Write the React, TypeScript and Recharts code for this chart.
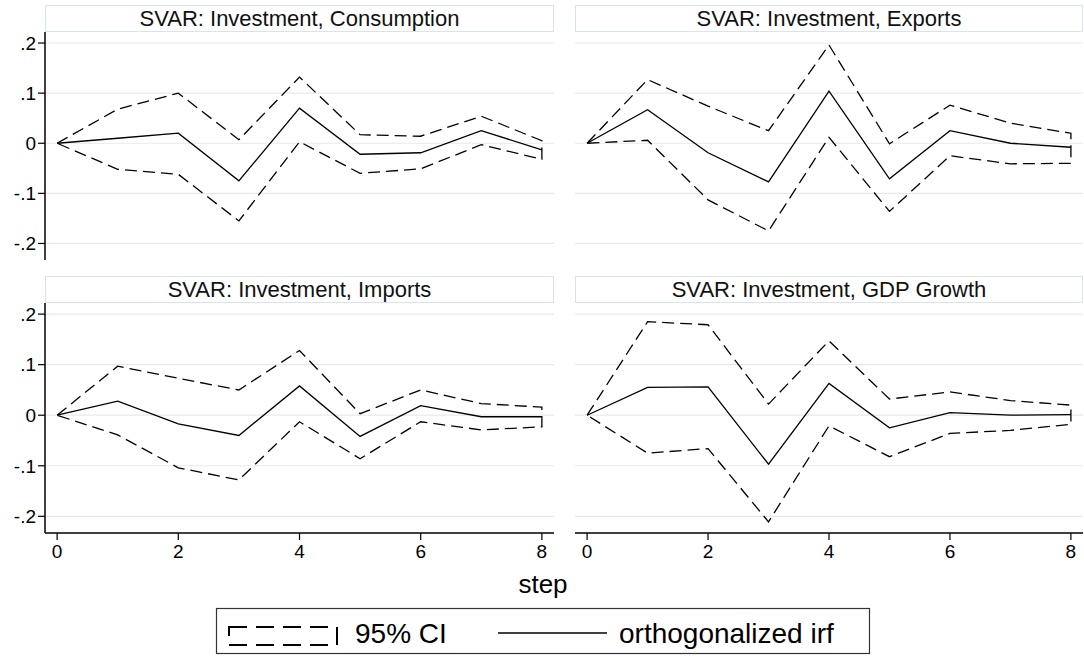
import React from 'react';
import { LineChart, Line, XAxis, YAxis, CartesianGrid } from 'recharts';

const FONT = '"Liberation Sans", Arial, Helvetica, sans-serif';

const steps = [0, 1, 2, 3, 4, 5, 6, 7, 8];
const xTicks = [0, 2, 4, 6, 8];
const yTicks = [-0.2, -0.1, 0, 0.1, 0.2];
const yTickLabels: Record<string, string> = { '-0.2': '-.2', '-0.1': '-.1', '0': '0', '0.1': '.1', '0.2': '.2' };

const panelTitles = [
  'SVAR: Investment, Consumption',
  'SVAR: Investment, Exports',
  'SVAR: Investment, Imports',
  'SVAR: Investment, GDP Growth',
];

// Consumption
const consIrf = [0, 0.01, 0.02, -0.075, 0.07, -0.022, -0.019, 0.025, -0.013];
const consUpper = [0, 0.068, 0.1, 0.007, 0.132, 0.017, 0.014, 0.054, 0.005];
const consLower = [0, -0.052, -0.062, -0.155, 0.003, -0.06, -0.051, -0.003, -0.032];

// Exports
const expIrf = [0, 0.067, -0.019, -0.077, 0.104, -0.071, 0.025, 0, -0.008];
const expUpper = [0, 0.127, 0.074, 0.025, 0.196, -0.001, 0.076, 0.04, 0.02];
const expLower = [0, 0.006, -0.113, -0.175, 0.012, -0.136, -0.025, -0.041, -0.04];

// Imports
const impIrf = [0, 0.028, -0.017, -0.04, 0.058, -0.042, 0.019, -0.003, -0.003];
const impUpper = [0, 0.097, 0.073, 0.05, 0.128, 0.003, 0.05, 0.023, 0.016];
const impLower = [0, -0.039, -0.104, -0.128, -0.013, -0.086, -0.013, -0.029, -0.023];

// GDP Growth
const gdpIrf = [0, 0.055, 0.056, -0.097, 0.063, -0.025, 0.005, 0, 0.001];
const gdpUpper = [0, 0.185, 0.179, 0.022, 0.147, 0.032, 0.046, 0.029, 0.02];
const gdpLower = [0, -0.075, -0.066, -0.211, -0.021, -0.082, -0.036, -0.03, -0.018];

const legendLabels = ['95% CI', 'orthogonalized irf'];
const xAxisTitle = 'step';

const Y_DOMAIN: [number, number] = [-0.233, 0.222];
const X_DOMAIN: [number, number] = [-0.2, 8.2];

type PanelProps = {
  title: string;
  irf: number[];
  upper: number[];
  lower: number[];
  left: number;
  top: number;
  width: number;
  showY: boolean;
  showX: boolean;
};

function Panel({ title, irf, upper, lower, left, top, width, showY, showX }: PanelProps) {
  const irfData = steps.map((s, i) => ({ step: s, v: irf[i] }));
  const ciData = [
    ...steps.map((s, i) => ({ step: s, v: upper[i] })),
    ...steps.slice().reverse().map((s) => ({ step: s, v: lower[s] })),
  ];
  const yAxisW = showY ? 45 : 0;
  const xAxisH = showX ? 35 : 0;
  const plotH = showX ? 230 : 228;
  const height = 10 + plotH + (showX ? xAxisH : 10);
  return (
    <div style={{ position: 'absolute', left, top: top - 27, width, height: height + 27 }}>
      <div
        style={{
          position: 'absolute',
          left: yAxisW,
          top: 0,
          width: width - yAxisW - (showY ? 0 : 1),
          height: 27,
          boxSizing: 'border-box',
          border: '1px solid #d9e3ea',
          background: '#ffffff',
          fontFamily: FONT,
          fontSize: 22,
          lineHeight: '25px',
          textAlign: 'center',
          color: '#111',
          whiteSpace: 'nowrap',
        }}
      >
        {title}
      </div>
      <div style={{ position: 'absolute', left: 0, top: 17 }}>
        <LineChart
          width={width}
          height={height}
          margin={{ top: 10, right: showY ? 0 : 1, bottom: showX ? 0 : 10, left: 0 }}
        >
          <CartesianGrid
            vertical={false}
            horizontalValues={yTicks}
            stroke="#e6e9ec"
            strokeWidth={1.2}
          />
          <XAxis
            type="number"
            dataKey="step"
            domain={X_DOMAIN}
            ticks={xTicks}
            allowDataOverflow
            hide={!showX}
            height={xAxisH}
            axisLine={{ stroke: '#000', strokeWidth: 1.5 }}
            tickLine={{ stroke: '#000', strokeWidth: 1.2 }}
            tickSize={7}
            tickMargin={5}
            tick={{ fill: '#000', fontSize: 19, fontFamily: FONT }}
            interval={0}
          />
          <YAxis
            type="number"
            domain={Y_DOMAIN}
            ticks={yTicks}
            allowDataOverflow
            hide={!showY}
            width={yAxisW}
            axisLine={{ stroke: '#000', strokeWidth: 1.5 }}
            tickLine={{ stroke: '#000', strokeWidth: 1.2 }}
            tickSize={7}
            tickMargin={2}
            tick={{ fill: '#000', fontSize: 19, fontFamily: FONT }}
            tickFormatter={(v: number) => yTickLabels[String(Math.round(v * 10) / 10)] ?? String(v)}
            interval={0}
          />
          <Line
            data={ciData}
            dataKey="v"
            type="linear"
            stroke="#000"
            strokeWidth={1.3}
            strokeDasharray="12 6"
            dot={false}
            activeDot={false}
            isAnimationActive={false}
          />
          <Line
            data={irfData}
            dataKey="v"
            type="linear"
            stroke="#000"
            strokeWidth={1.3}
            dot={false}
            activeDot={false}
            isAnimationActive={false}
          />
        </LineChart>
      </div>
    </div>
  );
}

export default function App() {
  return (
    <div
      style={{
        position: 'absolute',
        left: 0,
        top: 0,
        width: 1084,
        height: 656,
        background: '#fff',
        overflow: 'hidden',
        fontFamily: FONT,
      }}
    >
      <Panel title={panelTitles[0]} irf={consIrf} upper={consUpper} lower={consLower} left={0} top={32} width={554} showY showX={false} />
      <Panel title={panelTitles[1]} irf={expIrf} upper={expUpper} lower={expLower} left={575} top={32} width={509} showY={false} showX={false} />
      <Panel title={panelTitles[2]} irf={impIrf} upper={impUpper} lower={impLower} left={0} top={303} width={554} showY showX />
      <Panel title={panelTitles[3]} irf={gdpIrf} upper={gdpUpper} lower={gdpLower} left={575} top={303} width={509} showY={false} showX />

      <svg width={1084} height={656} style={{ position: 'absolute', left: 0, top: 0, pointerEvents: 'none' }}>
        <text x={543} y={593} textAnchor="middle" fontFamily={FONT} fontSize={26} fill="#000">
          {xAxisTitle}
        </text>
        <rect x={216.5} y={608.5} width={653} height={45} fill="#fff" stroke="#333" strokeWidth={1.2} />
        <rect x={229} y={627} width={108} height={18} fill="none" stroke="#000" strokeWidth={2} strokeDasharray="18 9" />
        <text x={355} y={643} fontFamily={FONT} fontSize={28} fill="#000">
          {legendLabels[0]}
        </text>
        <line x1={498} y1={633} x2={607} y2={633} stroke="#000" strokeWidth={1.6} />
        <text x={619} y={643} fontFamily={FONT} fontSize={28} fill="#000">
          {legendLabels[1]}
        </text>
      </svg>
    </div>
  );
}
